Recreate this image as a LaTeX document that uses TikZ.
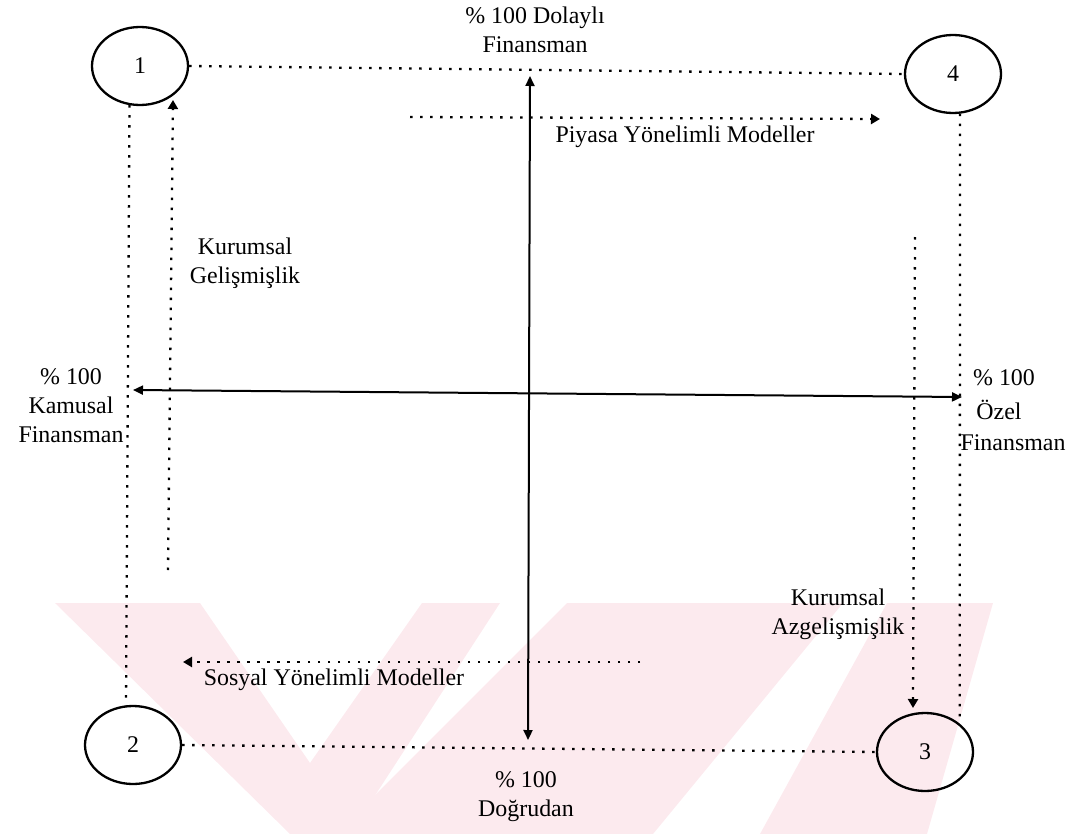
\documentclass[tikz,border=0pt]{standalone}
\usepackage{fontspec}
\setmainfont{Liberation Serif}
\usetikzlibrary{arrows.meta,shapes.geometric}
\definecolor{wmpink}{RGB}{252,234,238}
\begin{document}
\begin{tikzpicture}[x=1bp,y=-1bp,
  circ/.style={draw,ellipse,line width=2.3bp,minimum width=96bp,minimum height=78bp,inner sep=0pt,font=\fontsize{24}{28}\selectfont},
  dotline/.style={line width=2.3bp,dash pattern=on 2.5bp off 7.5bp},
  dotarrow/.style={dotline,-{Triangle[length=9bp,width=10bp]}},
  solidarrow/.style={line width=2bp,{Triangle[length=10bp,width=9bp]}-{Triangle[length=10bp,width=9bp]}},
  lbl/.style={font=\fontsize{24}{29}\selectfont,align=center,inner sep=0pt}
]
\useasboundingbox (0,0) rectangle (1069,834);
% watermark
\fill[wmpink] (55,603) -- (200,603) -- (310,763) -- (422,603) -- (500,603) -- (350,834) -- (290,834) -- cycle;
\fill[wmpink] (567,603) -- (843,603) -- (653,834) -- (336,834) -- cycle;
\fill[wmpink] (887,603) -- (993,603) -- (927,834) -- (760,834) -- cycle;
% circles
\node[circ] (n1) at (140,66) {1};
\node[circ] (n4) at (953,74) {4};
\node[circ] (n2) at (133,745) {2};
\node[circ] (n3) at (925,752) {3};
% frame dotted lines
\draw[dotline] (n1.east) -- (n4.west);
\draw[dotline] (n2.east) -- (n3.west);
\draw[dotline] (n1.255) -- (n2.100);
\draw[dotline] (n4.280) -- (n3.north east);
% dotted arrows
\coordinate (kgA) at (168,570);
\coordinate (kgB) at (173,100);
\draw[dotarrow] (kgA) -- (kgB);
\coordinate (kaA) at (915,237);
\coordinate (kaB) at (913,708);
\draw[dotarrow] (kaA) -- (kaB);
\coordinate (pyA) at (410,117);
\coordinate (pyB) at (880,119);
\draw[dotarrow] (pyA) -- (pyB);
\coordinate (soA) at (640,662);
\coordinate (soB) at (183,662);
\draw[dotarrow] (soA) -- (soB);
% axes
\coordinate (vT) at (530,76);
\coordinate (vB) at (528,740);
\draw[solidarrow] (vT) -- (vB);
\coordinate (hL) at (133,390);
\coordinate (hR) at (962,397);
\draw[solidarrow] (hL) -- (hR);
% labels
\node[lbl] (ttop) at (535,30) {\% 100 Dolaylı\\Finansman};
\node[lbl] (tbot) at (526,797) {\% 100\\Doğrudan};
\node[lbl] (tleft) at (71,406) {\% 100\\Kamusal\\Finansman};
\node[lbl] (tr1) at (1004,378) {\% 100};
\node[lbl] (tr2) at (999,410) {Özel};
\node[lbl] (tr3) at (1013,443) {Finansman};
\node[lbl] (tkg) at (245,263) {Kurumsal\\Gelişmişlik};
\node[lbl] (tka) at (838,614) {Kurumsal\\Azgelişmişlik};
\node[lbl] (tpy) at (685,137) {Piyasa Yönelimli Modeller};
\node[lbl] (tso) at (334,680) {Sosyal Yönelimli Modeller};
\end{tikzpicture}
\end{document}
